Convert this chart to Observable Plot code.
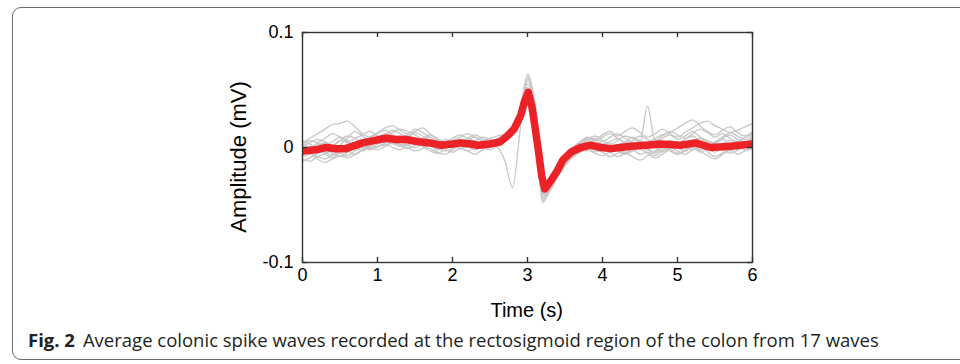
<!DOCTYPE html>
<html><head><meta charset="utf-8">
<script src="https://cdn.jsdelivr.net/npm/d3@7"></script>
<script src="https://cdn.jsdelivr.net/npm/@observablehq/plot@0.6"></script>
<style>
html,body{margin:0;padding:0;background:#fff;width:960px;height:364px;overflow:hidden}
#box{position:absolute;left:12px;top:7px;width:1000px;height:353px;border:1px solid #6b6b6b;border-radius:9px;box-sizing:border-box}
#chart{position:absolute;left:0;top:0}
#overlay{position:absolute;left:0;top:0}
</style></head><body>
<div id="box"></div>
<div id="chart"></div>
<svg id="overlay" width="960" height="364">
  <text x="526.7" y="317" text-anchor="middle" font-family="Liberation Sans, Arial, sans-serif" font-size="20" fill="#000">Time (s)</text>
  <text transform="translate(246,157) rotate(-90)" text-anchor="middle" font-family="Liberation Sans, Arial, sans-serif" font-size="22" fill="#000">Amplitude (mV)</text>
  <text x="28" y="347" font-family="Open Sans, sans-serif" font-size="18.5" fill="#231f20"><tspan font-weight="bold">Fig. 2</tspan><tspan dx="8">Average colonic spike waves recorded at the rectosigmoid region of the colon from 17 waves</tspan></text>
</svg>
<script>
// Time grid for the individual waves (s)
const waveTimes = [0,0.1,0.2,0.3,0.4,0.5,0.6,0.7,0.8,0.9,1,1.1,1.2,1.3,1.4,1.5,1.6,1.7,1.8,1.9,2,2.1,2.2,2.3,2.4,2.5,2.6,2.7,2.8,2.9,3,3.1,3.2,3.3,3.4,3.5,3.6,3.7,3.8,3.9,4,4.1,4.2,4.3,4.4,4.5,4.6,4.7,4.8,4.9,5,5.1,5.2,5.3,5.4,5.5,5.6,5.7,5.8,5.9,6];

// Individual spike waves (mV)
const wave1 = [-.004,-.002,.002,.004,.001,.006,.010,.008,.004,.006, .009,.012,.010,.008,.011,.007,.004,.006,.003,.001, .004,.007,.005,.002,.004,.006,.007,.010,.016,.030, .055,.030,-.040,-.032,-.020,-.010,-.004,.002,.004,.003, .001,-.002,.002,.004,.001,.003,.005,.002,.004,.006, .004,.001,.005,.008,.004,.001,.003,.006,.004,.002, .005];
const wave2 = [.002,.006,.004,.000,-.003,.002,.008,.014,.010,.006, .008,.011,.015,.012,.009,.013,.010,.006,.004,.007, .005,.002,.006,.009,.006,.004,.007,.011,.018,.032, .060,.035,-.044,-.034,-.022,-.012,-.006,.000,.004,.006, .003,.005,.008,.004,.006,.010,.007,.004,.008,.011, .007,.010,.014,.009,.006,.004,.008,.011,.007,.005, .009];
const wave3 = [-.010,-.012,-.008,-.006,-.009,-.005,-.007,-.003,.000,-.002, .001,.003,.000,-.002,.002,.004,.001,-.003,-.005,-.002, -.004,-.001,-.003,-.006,-.002,.000,.002,.006,.012,.024, .045,.026,-.046,-.038,-.026,-.016,-.008,-.004,-.002,-.005, -.007,-.004,-.008,-.005,-.002,-.006,-.004,-.007,-.003,.000, -.003,-.006,-.002,.001,-.004,-.008,-.005,-.002,-.006,-.003, -.001];
const wave4 = [.004,.008,.012,.016,.020,.021,.023,.018,.012,.009, .012,.015,.011,.008,.010,.014,.017,.012,.008,.005, .008,.011,.008,.006,.009,.007,.006,.009,.015,.028, .052,.040,-.036,-.026,-.014,-.006,-.002,.004,.008,.006, .009,.012,.008,.005,.009,.006,.004,.008,.011,.013, .017,.021,.024,.019,.014,.011,.015,.018,.013,.010, .014];
const wave5 = [-.006,-.003,.000,-.004,-.007,-.003,.001,.004,.002,-.001, .003,.006,.004,.001,.005,.008,.005,.002,-.001,.002, .000,.003,.001,-.002,.001,.003,.000,-.012,-.035,.014, .064,.036,-.040,-.030,-.019,-.010,-.004,-.001,.002,.000, -.003,.000,-.002,-.005,-.001,.002,-.001,-.004,.000,.003, .000,-.003,.001,.004,.000,-.004,-.001,.002,-.002,.001, .003];
const wave6 = [.000,-.004,-.008,-.010,-.006,-.002,.003,.001,-.003,.002, .006,.004,.007,.010,.006,.003,.005,.002,-.002,.000, .003,.000,-.003,.001,.004,.002,.005,.008,.013,.022, .042,.022,-.048,-.036,-.024,-.014,-.009,-.003,.001,-.002, -.004,-.008,-.005,-.001,.002,-.001,-.005,-.009,-.006,-.002, -.005,-.002,.001,-.003,-.007,-.010,-.006,-.002,.001,-.002, .002];
const wave7 = [.006,.003,-.001,.002,.005,.009,.006,.002,.005,.009, .013,.017,.019,.015,.012,.016,.013,.009,.006,.003, .006,.009,.012,.009,.006,.008,.010,.012,.017,.029, .050,.028,-.038,-.028,-.016,-.007,-.001,.004,.007,.010, .006,.003,.006,.010,.008,.005,.036,.006,.010,.014, .011,.008,.012,.016,.013,.009,.012,.008,.005,.009, .012];
const wave8 = [-.012,-.009,-.005,-.002,-.005,-.008,-.004,.000,.003,.000, -.002,.001,.004,.002,-.001,.002,.006,.009,.005,.002, .004,.007,.004,.000,.002,.005,.004,.007,.012,.026, .058,.032,-.042,-.030,-.020,-.011,-.005,-.001,.003,.001, -.002,.001,-.003,-.006,-.003,.000,.003,.000,-.004,-.001, .002,.005,.002,-.002,.001,.004,.007,.004,.000,.004, .007];
const wave9 = [.003,.000,.004,.008,.012,.009,.005,.008,.011,.014, .010,.006,.003,.005,.009,.006,.002,-.001,-.004,-.006, -.002,.002,.005,.002,-.001,.001,.004,.008,.014,.026, .048,.024,-.038,-.029,-.018,-.009,-.004,.002,.006,.008, .005,.009,.012,.008,.004,.001,.004,.007,.003,.000, .003,.007,.010,.006,.002,.005,.009,.013,.010,.007, .011];
const wave10 = [-.008,-.006,-.010,-.013,-.010,-.007,-.009,-.006,-.002,.001, .004,.002,.005,.003,.000,-.003,-.001,.002,.000,-.003, -.001,.002,.000,.003,.001,-.002,.001,.005,.010,.020, .040,.018,-.044,-.035,-.024,-.013,-.007,-.002,.000,-.004, -.001,.002,-.001,-.004,-.008,-.011,-.007,-.003,.000,-.003, -.006,-.003,.000,-.004,-.001,.002,-.002,-.005,-.002,.001, -.002];
const wave11 = [.001,.004,.007,.005,.002,.006,.004,.001,.004,.007, .005,.009,.013,.016,.014,.011,.008,.011,.007,.004, .001,.004,.008,.011,.008,.005,.008,.012,.019,.034, .062,.033,-.036,-.026,-.015,-.006,.000,.005,.009,.007, .011,.014,.010,.014,.017,.013,.009,.012,.016,.012, .009,.013,.017,.021,.023,.019,.016,.013,.015,.018, .021];
const wave12 = [-.002,.001,-.002,-.005,-.002,.001,-.003,-.006,-.002,.002, .000,.004,.008,.005,.002,.000,.003,.006,.003,-.001, .002,-.001,.002,.005,.003,.000,.003,.006,.011,.023, .046,.026,-.042,-.032,-.021,-.012,-.006,-.002,-.003,.000, .002,-.001,.003,.000,-.003,.000,-.002,-.005,-.002,.001, .004,.001,-.002,.001,.005,.003,.000,-.003,.001,.004, .003];

// Average wave (mV)
const avgTimes = [0,0.18,0.31,0.45,0.58,0.8,0.95,1.11,1.25,1.38,1.55,1.7,1.84,2.0,2.11,2.25,2.33,2.5,2.64,2.73,2.82,2.91,2.96,3.01,3.06,3.1,3.15,3.19,3.23,3.3,3.4,3.47,3.58,3.71,3.84,3.98,4.11,4.24,4.38,4.58,4.78,5.04,5.24,5.44,5.71,6.0];
const avgValues = [-.003,-.002,.000,-.001,-.001,.004,.006,.008,.007,.007,.005,.004,.002,.003,.004,.003,.002,.003,.005,.010,.016,.028,.040,.048,.035,.018,-.005,-.025,-.036,-.030,-.020,-.011,-.004,.000,.002,.000,-.001,.000,.001,.002,.003,.002,.004,.000,.001,.003];

// Axis ticks
const xTicks = [0,1,2,3,4,5,6];
const xTickLabels = ["0","1","2","3","4","5","6"];
const yTicks = [-0.1,0,0.1];
const yTickLabels = ["-0.1","0","0.1"];

const waves = [wave1,wave2,wave3,wave4,wave5,wave6,wave7,wave8,wave9,wave10,wave11,wave12];
const grayData = waves.flatMap((w, k) => w.map((v, i) => ({t: waveTimes[i], v, id: k})));
const avgData = avgTimes.map((t, i) => ({t, v: avgValues[i]}));

const W = 960, H = 300, mL = 302, mR = 208, mT = 32, mB = 38;
const innerW = W - mL - mR, innerH = H - mT - mB;
const axisColor = "#333333";

const chart = Plot.plot({
  width: W, height: H,
  marginLeft: mL, marginRight: mR, marginTop: mT, marginBottom: mB,
  style: {fontFamily: "Liberation Sans, Arial, sans-serif", fontSize: "18px", color: "#000", background: "transparent"},
  x: {domain: [0, 6]},
  y: {domain: [-0.1, 0.1]},
  marks: [
    Plot.line(grayData, {x: "t", y: "v", z: "id", stroke: "#c6c6c6", strokeWidth: 1.3, curve: "monotone-x"}),
    Plot.line(avgData, {x: "t", y: "v", stroke: "#ec2227", strokeWidth: 7.5, strokeLinejoin: "round", strokeLinecap: "butt", clip: true}),
    Plot.frame({stroke: axisColor, strokeWidth: 1.4}),
    Plot.tickX(xTicks, {x: d => d, stroke: axisColor, strokeWidth: 1.4, insetTop: innerH - 5}),
    Plot.tickX(xTicks, {x: d => d, stroke: axisColor, strokeWidth: 1.4, insetBottom: innerH - 5}),
    Plot.tickY(yTicks, {y: d => d, stroke: axisColor, strokeWidth: 1.4, insetRight: innerW - 5}),
    Plot.tickY(yTicks, {y: d => d, stroke: axisColor, strokeWidth: 1.4, insetLeft: innerW - 5}),
    Plot.axisX({ticks: xTicks, tickSize: 0, tickPadding: 6, label: null, tickFormat: (d, i) => xTickLabels[i], fill: "#000", fontSize: 18}),
    Plot.axisY({ticks: yTicks, tickSize: 0, tickPadding: 9, label: null, tickFormat: (d, i) => yTickLabels[i], fill: "#000", fontSize: 18})
  ]
});
document.getElementById("chart").appendChild(chart);
</script>
</body></html>
